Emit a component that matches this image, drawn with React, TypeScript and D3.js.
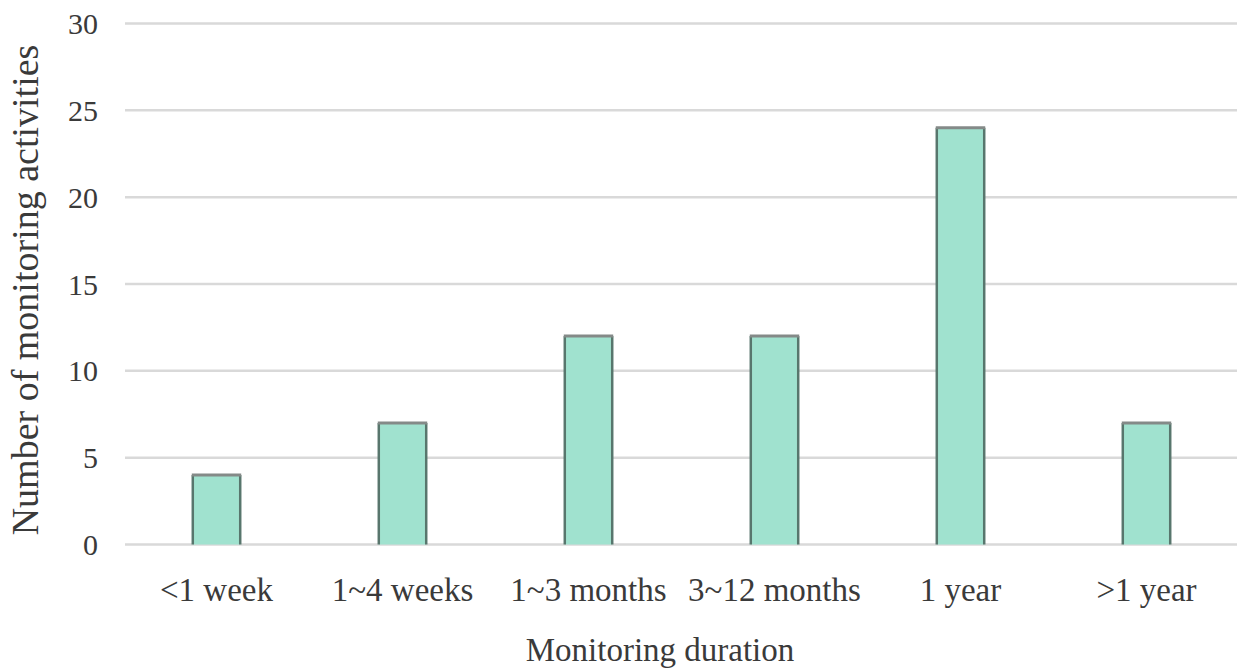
import React from "react";
import * as d3 from "d3";

const categories = ["<1 week", "1~4 weeks", "1~3 months", "3~12 months", "1 year", ">1 year"];
const counts = [4, 7, 12, 12, 24, 7];
const yTicks = [0, 5, 10, 15, 20, 25, 30];
const xTitle = "Monitoring duration";
const yTitle = "Number of monitoring activities";

const W = 1237;
const H = 670;
const FONT = "'Liberation Serif', 'Times New Roman', serif";

export default function App() {
  const x = d3.scaleBand<string>().domain(categories).range([123.5, 1239.5]).padding(0);
  const y = d3.scaleLinear().domain([0, 30]).range([544.5, 23.5]);
  const barW = x.bandwidth() * 0.255;

  return (
    <svg
      width={W}
      height={H}
      style={{ position: "absolute", left: 0, top: 0, background: "#fff" }}
      fontFamily={FONT}
    >
      {yTicks.map((t) => (
        <g key={t}>
          <line x1={125} x2={W} y1={y(t)} y2={y(t)} stroke="#d9d9d9" strokeWidth={2.5} />
          <text
            x={98}
            y={y(t)}
            dy="0.35em"
            textAnchor="end"
            fontSize={30}
            fill="#3a3a3a"
          >
            {t}
          </text>
        </g>
      ))}
      {categories.map((c, i) => {
        const cx = (x(c) as number) + x.bandwidth() / 2;
        const x0 = cx - barW / 2;
        const top = y(counts[i]);
        const bottom = y(0);
        return (
          <g key={c}>
            <rect x={x0} y={top} width={barW} height={bottom - top} fill="#a0e2cf" />
            <line x1={x0} x2={x0} y1={top} y2={bottom} stroke="#58766d" strokeWidth={2.5} />
            <line x1={x0 + barW} x2={x0 + barW} y1={top} y2={bottom} stroke="#58766d" strokeWidth={2.5} />
            <line x1={x0 - 1} x2={x0 + barW + 1} y1={top} y2={top} stroke="#848a88" strokeWidth={3} />
            <text x={cx} y={601} textAnchor="middle" fontSize={33} fill="#3a3a3a">
              {c}
            </text>
          </g>
        );
      })}
      <text x={660} y={661} textAnchor="middle" fontSize={33} fill="#3a3a3a">
        {xTitle}
      </text>
      <text
        transform={`translate(38,290) rotate(-90)`}
        textAnchor="middle"
        fontSize={38}
        fill="#3a3a3a"
      >
        {yTitle}
      </text>
    </svg>
  );
}
